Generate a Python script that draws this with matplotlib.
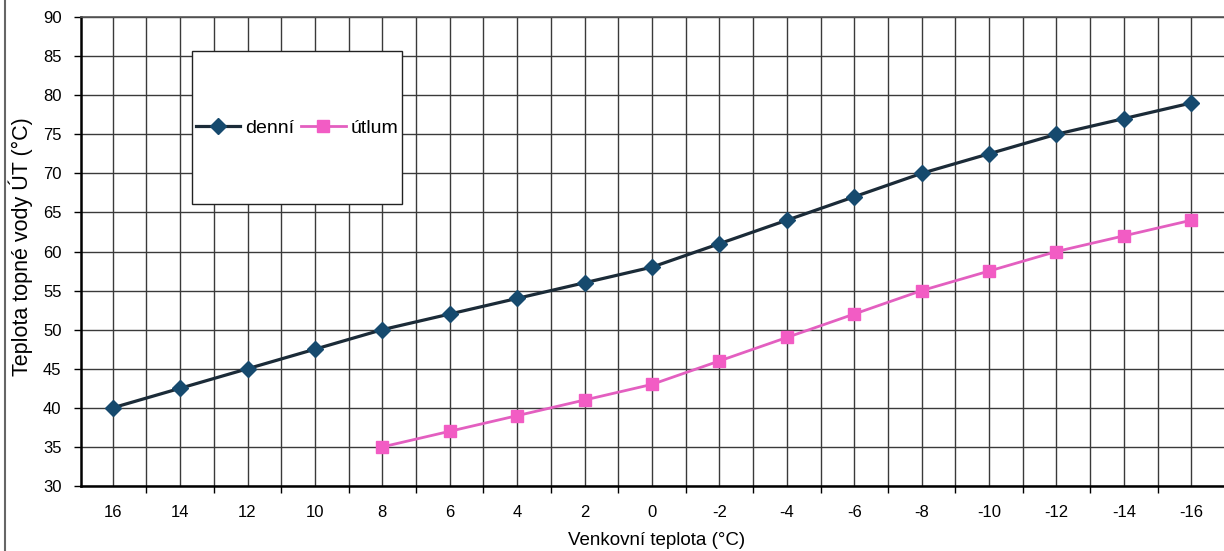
import matplotlib
matplotlib.use("Agg")
import matplotlib.pyplot as plt
from matplotlib.patches import Rectangle
from matplotlib.lines import Line2D
from matplotlib.ticker import MultipleLocator, FixedLocator

plt.rcParams['font.family'] = ['Liberation Sans', 'DejaVu Sans']

outdoor = [16, 14, 12, 10, 8, 6, 4, 2, 0, -2, -4, -6, -8, -10, -12, -14, -16]
denni = [40, 42.5, 45, 47.5, 50, 52, 54, 56, 58, 61, 64, 67, 70, 72.5, 75, 77, 79]
utlum = [None, None, None, None, 35, 37, 39, 41, 43, 46, 49, 52, 55, 57.5, 60, 62, 64]

W, H = 1224, 551
fig = plt.figure(figsize=(W / 100, H / 100), dpi=100)
ax = fig.add_axes([81 / W, (H - 486) / H, (1225 - 81) / W, (486 - 17) / H])

x = list(range(len(outdoor)))
ux = [i for i, v in zip(x, utlum) if v is not None]
uy = [v for v in utlum if v is not None]

ax.plot(x, denni, color='#1b2b38', lw=2.3, marker='D', markersize=8.5,
        markerfacecolor='#164a6e', markeredgecolor='#164a6e', label='denní', zorder=5)
ax.plot(ux, uy, color='#e35fc0', lw=2, marker='s', markersize=9,
        markerfacecolor='#f25cc4', markeredgecolor='#f25cc4', label='útlum', zorder=5)

ax.set_xlim(-0.47, 16.5)
ax.set_ylim(30, 90)
ax.yaxis.set_major_locator(MultipleLocator(5))
ax.xaxis.set_major_locator(FixedLocator(x))
ax.set_xticklabels([str(t) for t in outdoor])
ax.xaxis.set_minor_locator(FixedLocator([i + 0.5 for i in range(-1, 17)]))

ax.grid(True, which='both', axis='x', color='#3a3a3a', lw=1)
ax.grid(True, which='major', axis='y', color='#3a3a3a', lw=1)
ax.set_axisbelow(True)

ax.tick_params(axis='x', which='major', length=0, pad=14, labelsize=12)
ax.tick_params(axis='x', which='minor', length=5, width=1, direction='out')
ax.tick_params(axis='y', length=5, width=1, direction='out', pad=9, labelsize=12)

for s in ['top', 'right']:
    ax.spines[s].set_color('#555555')
    ax.spines[s].set_linewidth(1.2)
for s in ['left', 'bottom']:
    ax.spines[s].set_color('black')
    ax.spines[s].set_linewidth(1.8)

ax.set_xlabel('Venkovní teplota (°C)', fontsize=13.5)
ax.xaxis.set_label_coords(0.503, -0.098)
ax.set_ylabel('Teplota topné vody ÚT (°C)', fontsize=15.5)
ax.yaxis.set_label_coords(-0.042, 0.51)

# legend box
fig.patches.append(Rectangle((192 / W, (H - 204) / H), 210 / W, 153 / H,
                             transform=fig.transFigure, facecolor='white',
                             edgecolor='#222222', lw=1, zorder=10))
leg = fig.legend(loc='center', bbox_to_anchor=(297 / W, (H - 128) / H),
                 ncol=2, frameon=False, fontsize=14, handlelength=2.3,
                 handletextpad=0.25, columnspacing=0.35)
leg.set_zorder(11)

# outer border at left
fig.lines.append(Line2D([5 / W, 5 / W], [0, 1], transform=fig.transFigure,
                        color='#666666', lw=1.5))

fig.savefig('out.png', dpi=100)
